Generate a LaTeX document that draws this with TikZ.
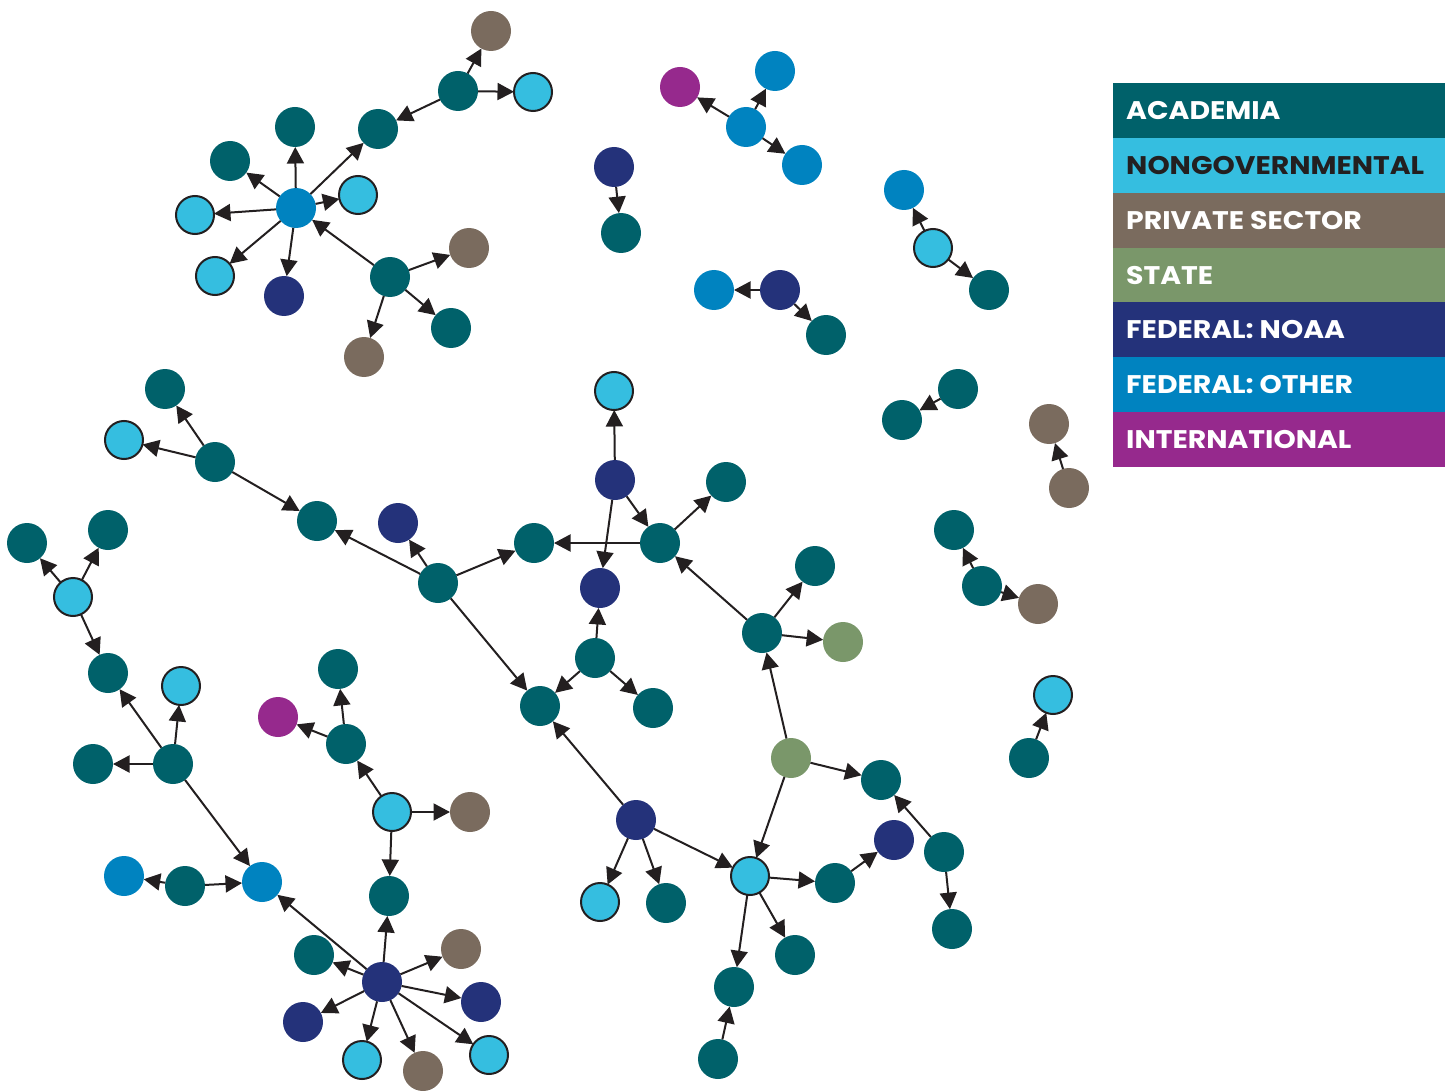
\documentclass[tikz,border=0pt]{standalone}
\usepackage{fontspec}
\setmainfont{Poppins}
\newfontfamily\legfont{Poppins}[FakeStretch=1.11]
\usetikzlibrary{arrows.meta}
\definecolor{cacad}{HTML}{00616A}
\definecolor{cngo}{HTML}{35BEE0}
\definecolor{cpriv}{HTML}{7A6B5E}
\definecolor{cstate}{HTML}{7A976A}
\definecolor{cnoaa}{HTML}{24327A}
\definecolor{cfed}{HTML}{0083C0}
\definecolor{cintl}{HTML}{96298D}
\definecolor{cink}{HTML}{231F20}
\tikzset{
  org/.style={circle,minimum size=40pt,inner sep=0pt,outer sep=0pt},
  acad/.style={org,fill=cacad},
  ngo/.style={org,fill=cngo,draw=cink,line width=2pt,minimum size=38pt},
  priv/.style={org,fill=cpriv},
  stat/.style={org,fill=cstate},
  noaa/.style={org,fill=cnoaa},
  fed/.style={org,fill=cfed},
  intl/.style={org,fill=cintl},
  arr/.style={draw=cink,line width=2pt,-{Triangle[length=16.5pt,width=17pt]}},
  legbox/.style={anchor=north west,minimum width=332pt,minimum height=55pt,inner sep=0pt,outer sep=0pt},
  legtxt/.style={anchor=west,font=\legfont\fontsize{25.5}{28}\selectfont\bfseries,inner sep=0pt}
}
\begin{document}
\begin{tikzpicture}[x=1pt,y=-1pt]
\useasboundingbox (0,0) rectangle (1445,1091);
% top-left cluster
\node[fed]  (f1) at (296,208) {};
\node[acad] (a1) at (295,127) {};
\node[acad] (a2) at (230,161) {};
\node[ngo]  (n1) at (195,215) {};
\node[ngo]  (n2) at (215,276) {};
\node[noaa] (o1) at (284,296) {};
\node[ngo]  (n3) at (358,195) {};
\node[acad] (a3) at (378,129) {};
\node[acad] (a4) at (390,277) {};
\node[priv] (p1) at (469,248) {};
\node[acad] (a5) at (451,328) {};
\node[priv] (p2) at (364,357) {};
\node[acad] (a6) at (458,91) {};
\node[priv] (p3) at (491,31) {};
\node[ngo]  (n4) at (533,92) {};
% top centre
\node[intl] (i1) at (680,87) {};
\node[fed]  (f2) at (746,127) {};
\node[fed]  (f3) at (775,71) {};
\node[fed]  (f4) at (802,165) {};
\node[noaa] (o2) at (614,167) {};
\node[acad] (a7) at (621,233) {};
\node[fed]  (f5) at (714,290) {};
\node[noaa] (o3) at (780,290) {};
\node[acad] (a8) at (826,335) {};
\node[fed]  (f6) at (904,190) {};
\node[ngo]  (n5) at (933,248) {};
\node[acad] (a9) at (989,290) {};
% right side
\node[acad] (a10) at (958,389) {};
\node[acad] (a11) at (902,420) {};
\node[priv] (p4) at (1049,424) {};
\node[priv] (p5) at (1069,488) {};
\node[acad] (a12) at (954,530) {};
\node[acad] (a13) at (982,586) {};
\node[priv] (p6) at (1038,604) {};
\node[ngo]  (n6) at (1053,695) {};
\node[acad] (a14) at (1029,758) {};
% middle
\node[acad] (a15) at (165,389) {};
\node[ngo]  (n7) at (124,440) {};
\node[acad] (a16) at (215,462) {};
\node[acad] (a17) at (317,521) {};
\node[noaa] (o4) at (398,523) {};
\node[acad] (a18) at (438,583) {};
\node[acad] (a19) at (534,543) {};
\node[acad] (a21) at (660,543) {};
\node[noaa] (o5) at (615,480) {};
\node[ngo]  (n8) at (614,391) {};
\node[acad] (a22) at (726,482) {};
\node[noaa] (o6) at (600,588) {};
\node[acad] (a23) at (762,633) {};
\node[acad] (a24) at (815,566) {};
\node[stat] (s1) at (843,642) {};
\node[acad] (a25) at (595,658) {};
\node[acad] (a26) at (653,708) {};
\node[acad] (a20) at (540,706) {};
\node[stat] (s2) at (791,758) {};
\node[acad] (a27) at (881,780) {};
\node[noaa] (o7) at (636,820) {};
\node[ngo]  (n9) at (600,902) {};
\node[acad] (a28) at (666,903) {};
\node[ngo]  (n10) at (750,876) {};
\node[acad] (a29) at (835,883) {};
\node[noaa] (o8) at (894,840) {};
\node[acad] (a30) at (944,852) {};
\node[acad] (a31) at (952,929) {};
\node[acad] (a32) at (795,955) {};
\node[acad] (a33) at (734,987) {};
\node[acad] (a34) at (718,1059) {};
% lower left
\node[acad] (a35) at (27,543) {};
\node[acad] (a36) at (108,530) {};
\node[ngo]  (n11) at (73,597) {};
\node[acad] (a37) at (108,673) {};
\node[ngo]  (n12) at (181,686) {};
\node[acad] (a38) at (173,764) {};
\node[acad] (a39) at (93,764) {};
\node[fed]  (f7) at (124,876) {};
\node[acad] (a40) at (185,886) {};
\node[fed]  (f8) at (262,882) {};
\node[acad] (a41) at (338,669) {};
\node[intl] (i2) at (278,717) {};
\node[acad] (a42) at (346,744) {};
\node[ngo]  (n13) at (392,812) {};
\node[priv] (p7) at (470,812) {};
\node[acad] (a43) at (389,896) {};
\node[noaa] (o9) at (382,982) {};
\node[acad] (a44) at (314,955) {};
\node[noaa] (o10) at (303,1022) {};
\node[ngo]  (n14) at (362,1060) {};
\node[priv] (p8) at (423,1071) {};
\node[ngo]  (n15) at (489,1055) {};
\node[noaa] (o11) at (481,1002) {};
\node[priv] (p9) at (461,949) {};
% connectors
\foreach \s/\t in {f1/a1,f1/a2,f1/n1,f1/n2,f1/o1,f1/n3,f1/a3,a4/f1,a4/p1,a4/a5,a4/p2,
  a6/a3,a6/p3,a6/n4,f2/i1,f2/f3,f2/f4,o2/a7,o3/f5,o3/a8,n5/f6,n5/a9,
  a10/a11,p5/p4,a13/a12,a13/p6,a14/n6,
  a16/a15,a16/n7,a16/a17,a18/a17,a18/o4,a18/a19,a18/a20,
  o5/n8,o5/a21,o5/o6,a21/a19,a21/a22,a23/a21,a23/a24,a23/s1,
  a25/o6,a25/a20,a25/a26,s2/a23,s2/a27,s2/n10,
  o7/a20,o7/n9,o7/a28,o7/n10,n10/a29,n10/a32,n10/a33,a29/o8,a30/a27,a30/a31,a34/a33,
  n11/a35,n11/a36,n11/a37,a38/a37,a38/n12,a38/a39,a38/f8,a40/f7,a40/f8,
  a42/a41,a42/i2,n13/a42,n13/p7,n13/a43,
  o9/a43,o9/f8,o9/a44,o9/o10,o9/n14,o9/p8,o9/n15,o9/o11,o9/p9}
  \draw[arr] (\s) -- (\t);
% legend
\node[legbox,fill=cacad]  (l1) at (1113,83) {};
\node[legbox,fill=cngo]   (l2) at (1113,138) {};
\node[legbox,fill=cpriv]  (l3) at (1113,193) {};
\node[legbox,fill=cstate] (l4) at (1113,248) {};
\node[legbox,fill=cnoaa]  (l5) at (1113,302) {};
\node[legbox,fill=cfed]   (l6) at (1113,357) {};
\node[legbox,fill=cintl]  (l7) at (1113,412) {};
\node[legtxt,text=white] (t1) at ([xshift=13pt]l1.west) {ACADEMIA};
\node[legtxt,text=cink]  (t2) at ([xshift=13pt]l2.west) {NONGOVERNMENTAL};
\node[legtxt,text=white] (t3) at ([xshift=13pt]l3.west) {PRIVATE SECTOR};
\node[legtxt,text=white] (t4) at ([xshift=13pt]l4.west) {STATE};
\node[legtxt,text=white] (t5) at ([xshift=13pt]l5.west) {FEDERAL: NOAA};
\node[legtxt,text=white] (t6) at ([xshift=13pt]l6.west) {FEDERAL: OTHER};
\node[legtxt,text=white] (t7) at ([xshift=13pt]l7.west) {INTERNATIONAL};
\end{tikzpicture}
\end{document}
